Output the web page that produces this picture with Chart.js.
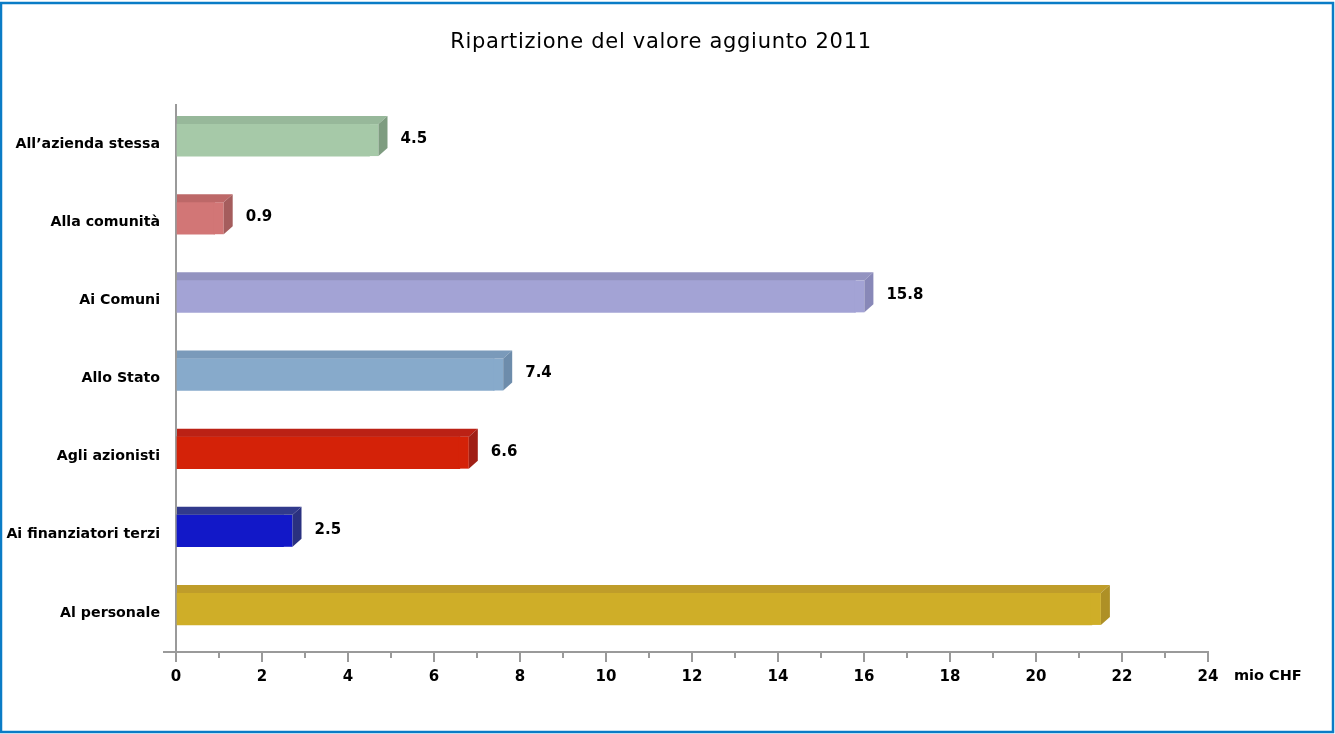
<!DOCTYPE html>
<html>
<head>
<meta charset="utf-8">
<script src="https://cdn.jsdelivr.net/npm/chart.js@4/dist/chart.umd.min.js"></script>
<style>
    html, body { margin: 0; padding: 0; background: #fff; }
    #wrap { width: 1335px; height: 734px; position: relative; }
</style>
</head>
<body>
<div id="wrap"><canvas id="valoreAggiunto" width="1335" height="734"></canvas></div>
<script>
// Dati: ripartizione del valore aggiunto 2011 (mio CHF)
const categorie = ['All\u2019azienda stessa', 'Alla comunità', 'Ai Comuni', 'Allo Stato', 'Agli azionisti', 'Ai finanziatori terzi', 'Al personale'];
const valori = [4.5, 0.9, 15.8, 7.4, 6.6, 2.5, 21.3];
const etichetteValori = ['4.5', '0.9', '15.8', '7.4', '6.6', '2.5', ''];
const xTicks = [0, 2, 4, 6, 8, 10, 12, 14, 16, 18, 20, 22, 24];

// colori: fronte, sopra, lato
const coloriFronte = ['#a6c9a8', '#d27676', '#a3a3d5', '#87aacb', '#d42208', '#1218c8', '#cfae28'];
const coloriSopra  = ['#97b89a', '#bd6868', '#9393c0', '#7a9aba', '#bb2115', '#313a8c', '#bf9d2a'];
const coloriLato   = ['#7e9c80', '#a55d5d', '#8888b8', '#6d8cab', '#a01f16', '#2a3180', '#ae9026'];

const DEPTH_X = 9;
const DEPTH_Y = 8;
const SHIFT_Y = -4; // spostamento della prospettiva
const AXIS_GREY = '#9a9a9a';
const FONT = '"DejaVu Sans", Verdana, sans-serif';

// barre "3D": prolunga la faccia frontale e disegna sopra e lato
const bar3d = {
    id: 'bar3d',
    beforeDatasetsDraw(chart) {
        chart.ctx.save();
        chart.ctx.translate(0, SHIFT_Y);
    },
    afterDatasetsDraw(chart) {
        const ctx = chart.ctx;
        const meta = chart.getDatasetMeta(0);
        meta.data.forEach((bar, i) => {
            const p = bar.getProps(['x', 'y', 'base', 'height'], true);
            const top = p.y - p.height / 2;
            const bottom = p.y + p.height / 2;
            const right = p.x + DEPTH_X;
            // prolungamento frontale
            ctx.fillStyle = coloriFronte[i];
            ctx.fillRect(p.x - 1, top, DEPTH_X + 1, p.height);
            // faccia superiore
            ctx.fillStyle = coloriSopra[i];
            ctx.beginPath();
            ctx.moveTo(p.base, top);
            ctx.lineTo(right, top);
            ctx.lineTo(right + DEPTH_X, top - DEPTH_Y);
            ctx.lineTo(p.base, top - DEPTH_Y);
            ctx.closePath();
            ctx.fill();
            // faccia laterale
            ctx.fillStyle = coloriLato[i];
            ctx.beginPath();
            ctx.moveTo(right, top);
            ctx.lineTo(right + DEPTH_X, top - DEPTH_Y);
            ctx.lineTo(right + DEPTH_X, bottom - DEPTH_Y);
            ctx.lineTo(right, bottom);
            ctx.closePath();
            ctx.fill();
            // etichetta valore
            if (etichetteValori[i]) {
                ctx.fillStyle = '#000';
                ctx.font = 'bold 15px ' + FONT;
                ctx.textBaseline = 'middle';
                ctx.textAlign = 'left';
                ctx.fillText(etichetteValori[i], right + DEPTH_X + 13, p.y - 1);
            }
        });
        ctx.restore();
    }
};

// titolo, tacche secondarie, prolungamenti assi, unità, cornice
const extras = {
    id: 'extras',
    afterDraw(chart) {
        const ctx = chart.ctx;
        const xs = chart.scales.x;
        const area = chart.chartArea;
        ctx.save();
        ctx.strokeStyle = AXIS_GREY;
        ctx.lineWidth = 2;
        ctx.beginPath();
        for (let v = 1; v < 24; v += 2) {
            const px = Math.round(xs.getPixelForValue(v));
            ctx.moveTo(px, area.bottom);
            ctx.lineTo(px, area.bottom + 6);
        }
        // prolungamento asse x a sinistra e asse y in basso
        ctx.moveTo(area.left - 13, area.bottom);
        ctx.lineTo(area.left, area.bottom);
        ctx.moveTo(area.left, area.bottom);
        ctx.lineTo(area.left, area.bottom + 10);
        ctx.stroke();

        ctx.fillStyle = '#000';
        ctx.font = 'bold 14.5px ' + FONT;
        ctx.textBaseline = 'middle';
        ctx.textAlign = 'left';
        ctx.fillText('mio CHF', xs.getPixelForValue(24) + 26, area.bottom + 24);

        // titolo
        ctx.font = '21px ' + FONT;
        if ('letterSpacing' in ctx) ctx.letterSpacing = '0.7px';
        ctx.textAlign = 'center';
        ctx.textBaseline = 'alphabetic';
        ctx.fillText('Ripartizione del valore aggiunto 2011', 661, 48);
        if ('letterSpacing' in ctx) ctx.letterSpacing = '0px';

        ctx.strokeStyle = '#0a7cc6';
        ctx.lineWidth = 2.5;
        ctx.strokeRect(1, 3, chart.width - 3, chart.height - 5);
        ctx.restore();
    }
};

const ctx = document.getElementById('valoreAggiunto').getContext('2d');
new Chart(ctx, {
    type: 'bar',
    data: {
        labels: categorie,
        datasets: [{
            label: 'Valore aggiunto',
            data: valori,
            backgroundColor: coloriFronte,
            borderWidth: 0,
            barThickness: 32
        }]
    },
    options: {
        indexAxis: 'y',
        responsive: false,
        animation: false,
        layout: {
            padding: { left: 0, right: 127, top: 105, bottom: 42 }
        },
        scales: {
            x: {
                min: 0,
                max: 24,
                afterBuildTicks: scale => { scale.ticks = xTicks.map(v => ({ value: v })); },
                ticks: {
                    color: '#000',
                    padding: 6,
                    font: { family: FONT, size: 15, weight: 'bold' }
                },
                grid: {
                    drawOnChartArea: false,
                    drawTicks: true,
                    tickLength: 10,
                    color: AXIS_GREY,
                    lineWidth: 2
                },
                border: { display: true, color: AXIS_GREY, width: 2 }
            },
            y: {
                afterFit: scale => { scale.width = 176; },
                ticks: {
                    color: '#000',
                    padding: 8,
                    font: { family: FONT, size: 14.2, weight: 'bold' }
                },
                grid: { display: false },
                border: { display: true, color: AXIS_GREY, width: 2 }
            }
        },
        plugins: {
            legend: { display: false },
            tooltip: { enabled: false },
            title: { display: false }
        }
    },
    plugins: [bar3d, extras]
});
</script>
</body>
</html>
